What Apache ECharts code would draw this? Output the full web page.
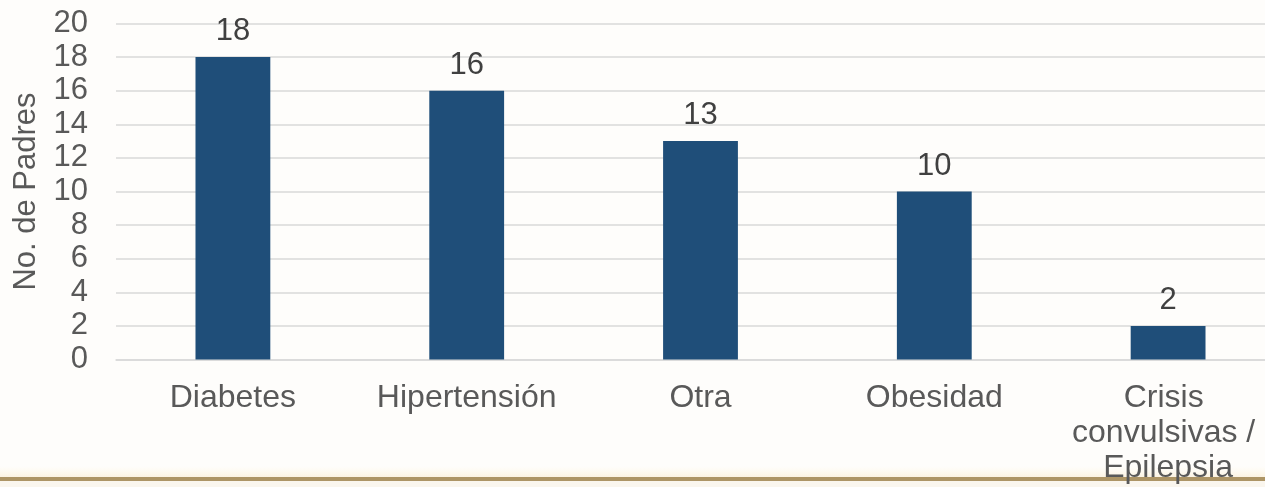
<!DOCTYPE html>
<html>
<head>
<meta charset="utf-8">
<script src="https://cdn.jsdelivr.net/npm/echarts@6/dist/echarts.min.js"></script>
<style>
html,body{margin:0;padding:0;background:#fefdfb;overflow:hidden;width:1265px;height:487px;}
#chart{width:1285px;height:487px;}
#deco{position:absolute;left:0;top:0;width:1265px;height:487px;pointer-events:none;}
</style>
</head>
<body>
<div id="chart"></div>
<script>
const categories = ["Diabetes", "Hipertensión", "Otra", "Obesidad", "Crisis convulsivas / Epilepsia"];
const values = [18, 16, 13, 10, 2];
const yTicks = [0, 2, 4, 6, 8, 10, 12, 14, 16, 18, 20];
const yAxisName = "No. de Padres";

const chart = echarts.init(document.getElementById('chart'));
const font = "'Liberation Sans', Arial, sans-serif";
chart.setOption({
  backgroundColor: '#fefdfb',
  animation: false,
  grid: { left: 116, right: 0, top: 23.5, bottom: 127.5, containLabel: false },
  xAxis: {
    type: 'category',
    data: categories,
    axisLine: { show: true, lineStyle: { color: '#d9d9d9', width: 1.5 } },
    axisTick: { show: false },
    axisLabel: {
      color: '#595959', fontSize: 32, fontFamily: font, margin: 21,
      interval: 0, width: 200, overflow: 'break', lineHeight: 35, align: 'center'
    }
  },
  yAxis: {
    type: 'value',
    min: yTicks[0], max: yTicks[yTicks.length - 1], interval: 2,
    name: yAxisName,
    nameLocation: 'middle',
    nameGap: 74,
    nameRotate: 90,
    nameTextStyle: { color: '#595959', fontSize: 31, fontFamily: font },
    axisLine: { show: false },
    axisTick: { show: false },
    axisLabel: { color: '#595959', fontSize: 31, fontFamily: font, margin: 28 },
    splitLine: { lineStyle: { color: '#d9d9d9', width: 1.5 } }
  },
  series: [{
    type: 'bar',
    data: values,
    barWidth: '32%',
    itemStyle: { color: '#1f4e79' },
    label: { show: true, position: 'top', distance: 10, color: '#404040', fontSize: 31, fontFamily: font }
  }],
  graphic: [
    { type: 'rect', left: 0, top: 466, z: -1, shape: { width: 1285, height: 11 },
      style: { fill: new echarts.graphic.LinearGradient(0,0,0,1,[{offset:0,color:'rgba(255,250,235,0)'},{offset:1,color:'#fbf3e3'}]) } },
    { type: 'rect', left: 0, top: 477, z: -1, shape: { width: 1285, height: 4 }, style: { fill: '#ad9566' } },
    { type: 'rect', left: 0, top: 481, z: -1, shape: { width: 1285, height: 6 }, style: { fill: '#faf6ee' } }
  ]
});
</script>
</body>
</html>
